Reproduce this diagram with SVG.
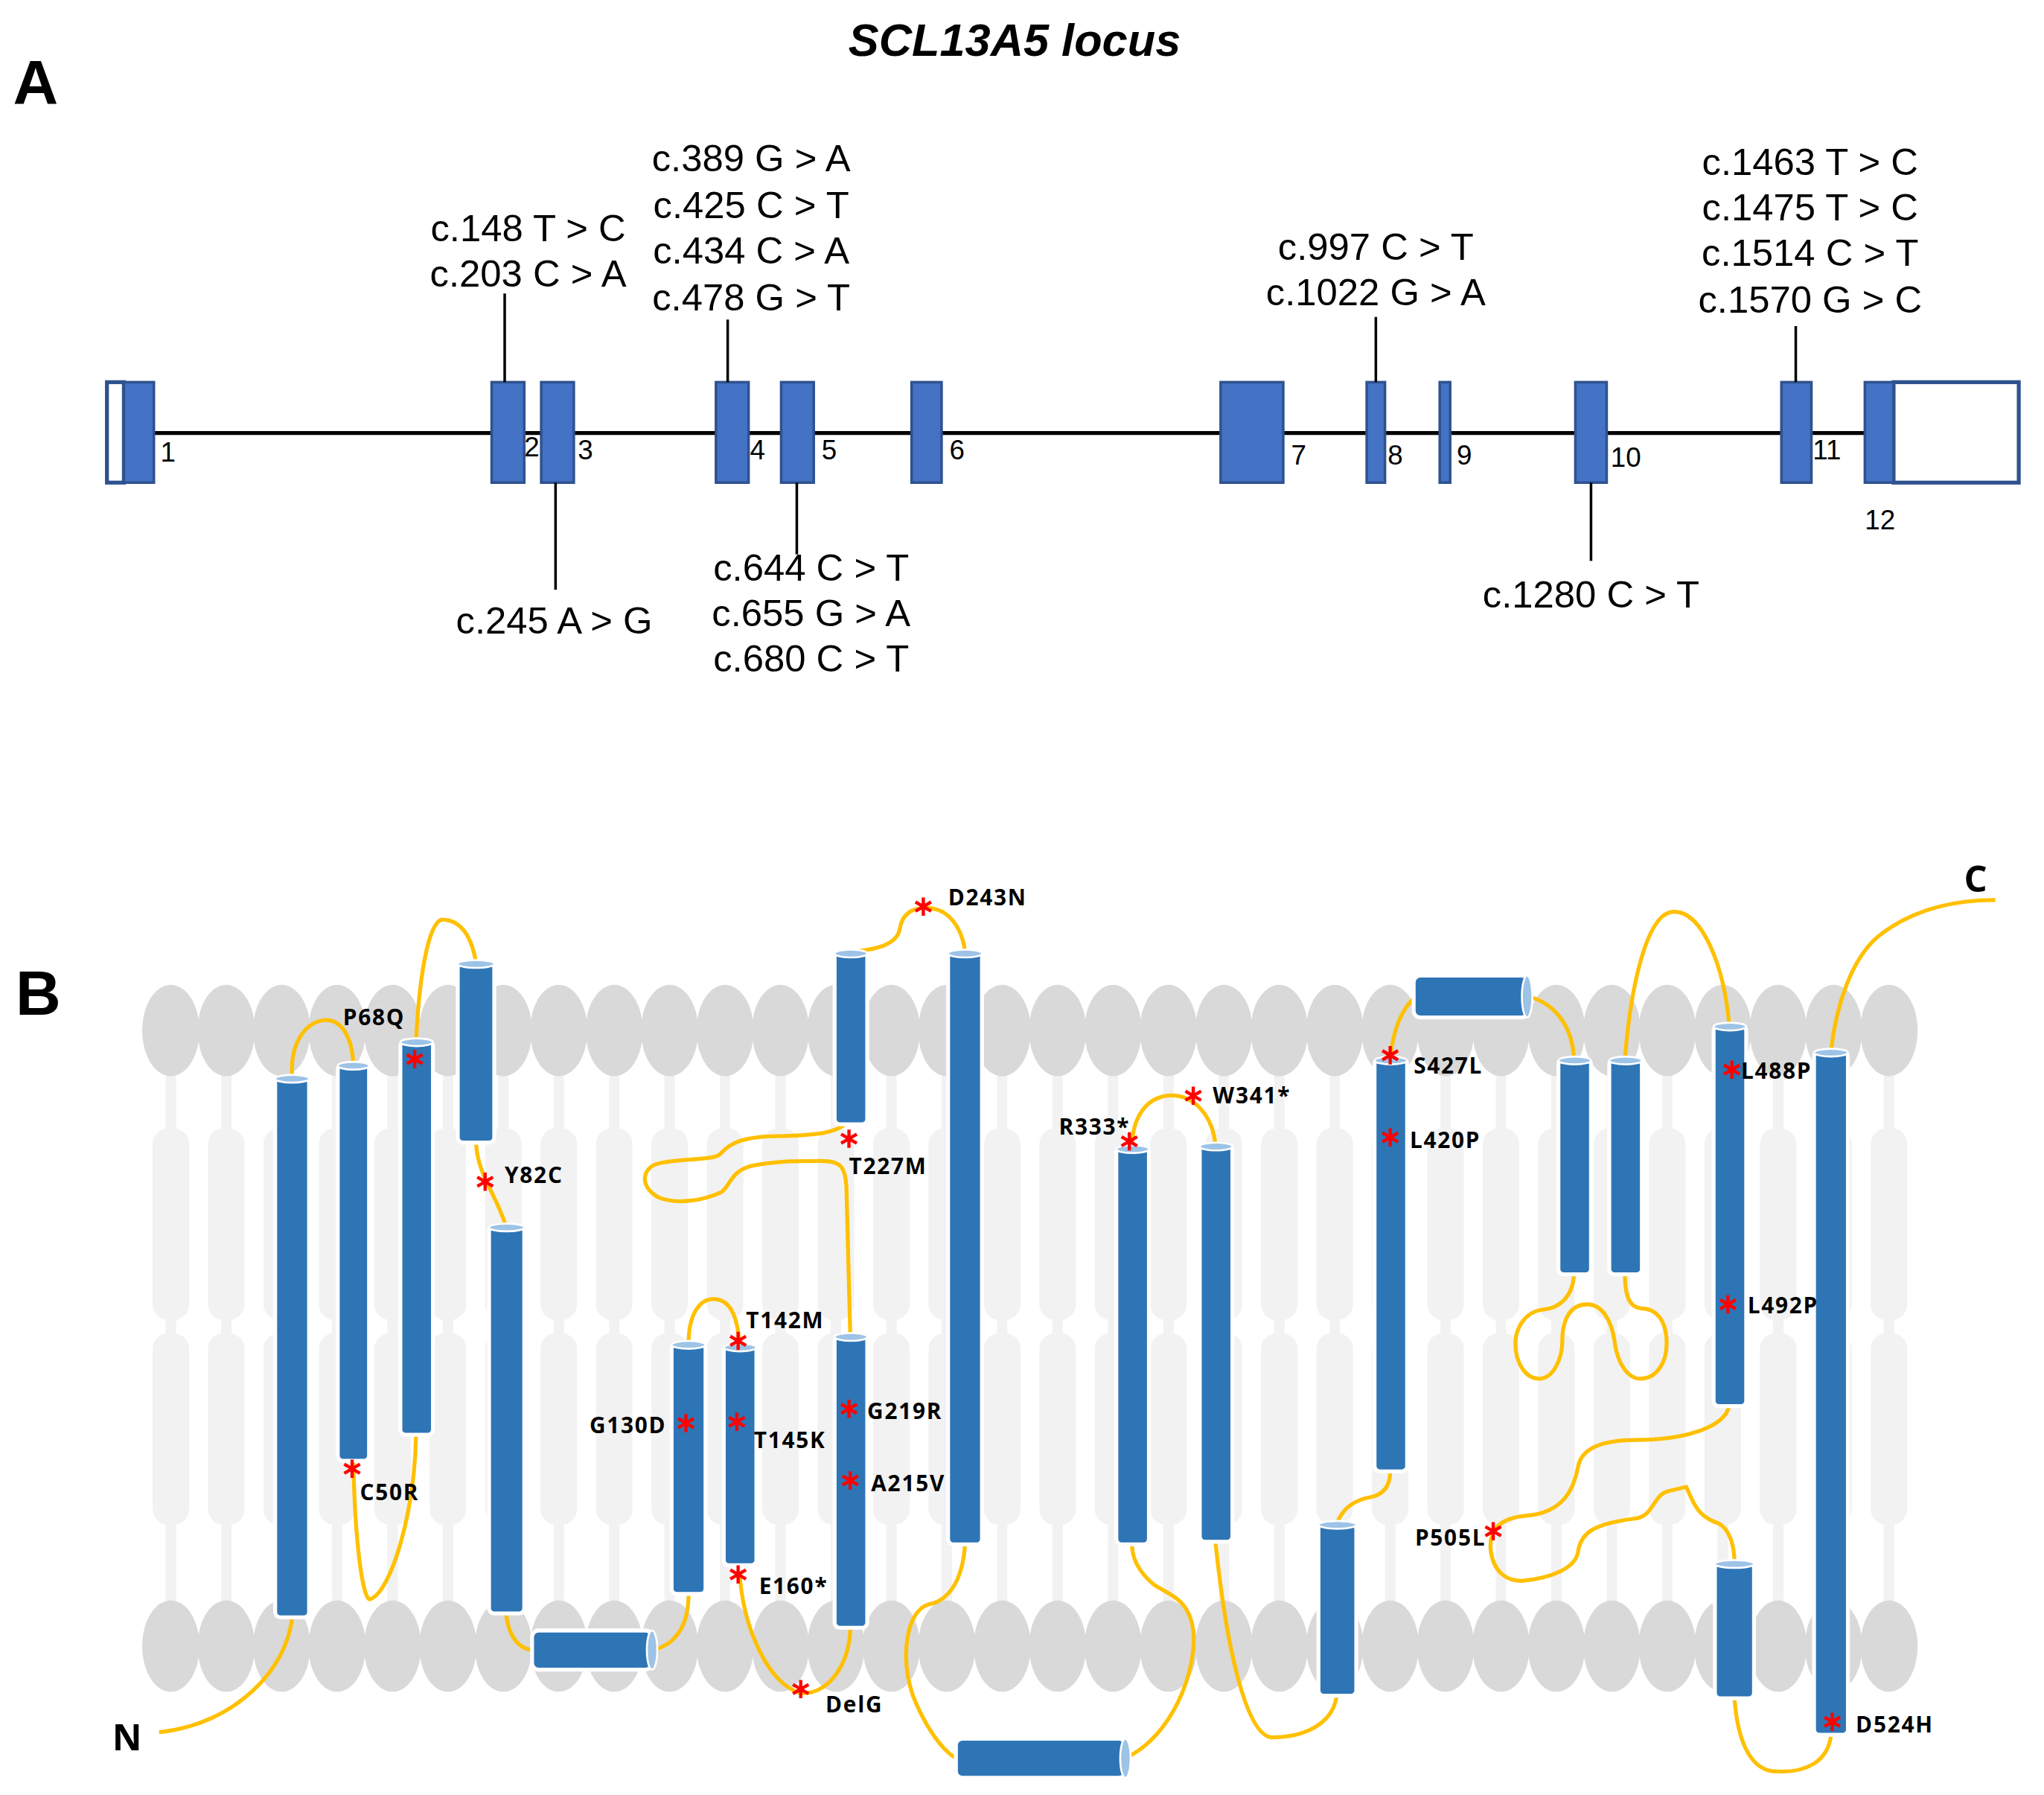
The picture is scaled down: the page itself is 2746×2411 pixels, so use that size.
<svg xmlns="http://www.w3.org/2000/svg" xmlns:xlink="http://www.w3.org/1999/xlink" width="2746" height="2411" viewBox="0 0 2746 2411">
<style>
.ex{fill:#4472C4;stroke:#2F528F;stroke-width:2}
.exw{fill:#fff;stroke:#2F528F;stroke-width:3}
.ml{font-family:"Liberation Sans",Arial,sans-serif;font-size:29px;fill:#000;text-anchor:middle}
.en{font-family:"Liberation Sans",Arial,sans-serif;font-size:21px;fill:#000}
.tk{stroke:#000;stroke-width:2}
.hd{fill:#d9d9d9}
.tl{fill:#f2f2f2}
.lp{fill:none;stroke:#FFC000;stroke-width:3}
.hx{fill:#2E75B6;stroke:#fff;stroke-width:3}
.cap{fill:#9DC3E6;stroke:#fff;stroke-width:1.5}
.lb{font-family:"Open Sans","DejaVu Sans",sans-serif;font-weight:bold;font-size:17px;fill:#000;letter-spacing:1px}
.big{font-family:"Liberation Sans",Arial,sans-serif;font-weight:bold;font-size:48px;fill:#000}
</style>
<defs>
<g id="ast"><path d="M0,-7V7M-6,-3.5L6,3.5M-6,3.5L6,-3.5" stroke="#f00" stroke-width="2.5"/></g>
<g id="head"><ellipse cx="0" cy="0" rx="22" ry="35" class="hd"/></g>
<g id="tail"><rect x="-4" y="820" width="8" height="415" class="tl"/><rect x="-14" y="865" width="28" height="147" rx="12" class="tl"/><rect x="-14" y="1022" width="28" height="147" rx="12" class="tl"/></g>
</defs>
<rect width="2746" height="2411" fill="#fff"/>
<g transform="scale(1.752)">
<g id="panelA">
<text x="778" y="43" font-family="Liberation Sans,Arial,sans-serif" font-weight="bold" font-style="italic" font-size="35" text-anchor="middle">SCL13A5 locus</text>
<text x="10" y="80" class="big">A</text>
<line x1="118" y1="332" x2="1430" y2="332" stroke="#000" stroke-width="3"/>
<g id="exons">
<rect x="82" y="293" width="13" height="77" class="exw"/><rect x="95" y="293" width="23" height="77" class="ex"/>
<rect x="377" y="293" width="25" height="77" class="ex"/>
<rect x="415" y="293" width="25" height="77" class="ex"/>
<rect x="549" y="293" width="25" height="77" class="ex"/>
<rect x="599" y="293" width="25" height="77" class="ex"/>
<rect x="699" y="293" width="23" height="77" class="ex"/>
<rect x="936" y="293" width="48" height="77" class="ex"/>
<rect x="1048" y="293" width="14" height="77" class="ex"/>
<rect x="1104" y="293" width="8" height="77" class="ex"/>
<rect x="1208" y="293" width="24" height="77" class="ex"/>
<rect x="1366" y="293" width="23" height="77" class="ex"/>
<rect x="1452" y="293" width="96" height="77" class="exw"/><rect x="1430" y="293" width="22" height="77" class="ex"/>
</g>
<g class="en">
<text x="123" y="354">1</text><text x="402" y="350">2</text><text x="443" y="352">3</text><text x="575" y="352">4</text><text x="630" y="352">5</text><text x="728" y="352">6</text><text x="990" y="356">7</text><text x="1064" y="356">8</text><text x="1117" y="356">9</text><text x="1235" y="358">10</text><text x="1390" y="352">11</text><text x="1430" y="406">12</text>
</g>
<g id="ticks">
<line x1="387" y1="225" x2="387" y2="293" class="tk"/>
<line x1="558" y1="245" x2="558" y2="293" class="tk"/>
<line x1="1055" y1="243" x2="1055" y2="293" class="tk"/>
<line x1="1377" y1="250" x2="1377" y2="293" class="tk"/>
<line x1="426" y1="370" x2="426" y2="452" class="tk"/>
<line x1="611" y1="370" x2="611" y2="425" class="tk"/>
<line x1="1220" y1="370" x2="1220" y2="430" class="tk"/>
</g>
<g class="ml">
<text x="405" y="185">c.148 T &gt; C</text><text x="405" y="220">c.203 C &gt; A</text>
<text x="576" y="131">c.389 G &gt; A</text><text x="576" y="167">c.425 C &gt; T</text><text x="576" y="202">c.434 C &gt; A</text><text x="576" y="238">c.478 G &gt; T</text>
<text x="1055" y="199">c.997 C &gt; T</text><text x="1055" y="234">c.1022 G &gt; A</text>
<text x="1388" y="134">c.1463 T &gt; C</text><text x="1388" y="169">c.1475 T &gt; C</text><text x="1388" y="204">c.1514 C &gt; T</text><text x="1388" y="240">c.1570 G &gt; C</text>
<text x="425" y="486">c.245 A &gt; G</text>
<text x="622" y="445">c.644 C &gt; T</text><text x="622" y="480">c.655 G &gt; A</text><text x="622" y="515">c.680 C &gt; T</text>
<text x="1220" y="466">c.1280 C &gt; T</text>
</g>
</g>
<g id="panelB">
<text x="12" y="778" class="big">B</text>
<g id="membrane">
<use href="#tail" x="131"/><use href="#tail" x="173.5"/><use href="#tail" x="216"/><use href="#tail" x="258.5"/><use href="#tail" x="301"/><use href="#tail" x="343.5"/><use href="#tail" x="386"/><use href="#tail" x="428.5"/><use href="#tail" x="471"/><use href="#tail" x="513.5"/><use href="#tail" x="556"/><use href="#tail" x="598.5"/><use href="#tail" x="641"/><use href="#tail" x="683.5"/><use href="#tail" x="726"/><use href="#tail" x="768.5"/><use href="#tail" x="811"/><use href="#tail" x="853.5"/><use href="#tail" x="896"/><use href="#tail" x="938.5"/><use href="#tail" x="981"/><use href="#tail" x="1023.5"/><use href="#tail" x="1066"/><use href="#tail" x="1108.5"/><use href="#tail" x="1151"/><use href="#tail" x="1193.5"/><use href="#tail" x="1236"/><use href="#tail" x="1278.5"/><use href="#tail" x="1321"/><use href="#tail" x="1363.5"/><use href="#tail" x="1406"/><use href="#tail" x="1448.5"/>
<g transform="translate(0,790)"><use href="#head" x="131"/><use href="#head" x="173.5"/><use href="#head" x="216"/><use href="#head" x="258.5"/><use href="#head" x="301"/><use href="#head" x="343.5"/><use href="#head" x="386"/><use href="#head" x="428.5"/><use href="#head" x="471"/><use href="#head" x="513.5"/><use href="#head" x="556"/><use href="#head" x="598.5"/><use href="#head" x="641"/><use href="#head" x="683.5"/><use href="#head" x="726"/><use href="#head" x="768.5"/><use href="#head" x="811"/><use href="#head" x="853.5"/><use href="#head" x="896"/><use href="#head" x="938.5"/><use href="#head" x="981"/><use href="#head" x="1023.5"/><use href="#head" x="1066"/><use href="#head" x="1108.5"/><use href="#head" x="1151"/><use href="#head" x="1193.5"/><use href="#head" x="1236"/><use href="#head" x="1278.5"/><use href="#head" x="1321"/><use href="#head" x="1363.5"/><use href="#head" x="1406"/><use href="#head" x="1448.5"/></g>
<g transform="translate(0,1262)"><use href="#head" x="131"/><use href="#head" x="173.5"/><use href="#head" x="216"/><use href="#head" x="258.5"/><use href="#head" x="301"/><use href="#head" x="343.5"/><use href="#head" x="386"/><use href="#head" x="428.5"/><use href="#head" x="471"/><use href="#head" x="513.5"/><use href="#head" x="556"/><use href="#head" x="598.5"/><use href="#head" x="641"/><use href="#head" x="683.5"/><use href="#head" x="726"/><use href="#head" x="768.5"/><use href="#head" x="811"/><use href="#head" x="853.5"/><use href="#head" x="896"/><use href="#head" x="938.5"/><use href="#head" x="981"/><use href="#head" x="1023.5"/><use href="#head" x="1066"/><use href="#head" x="1108.5"/><use href="#head" x="1151"/><use href="#head" x="1193.5"/><use href="#head" x="1236"/><use href="#head" x="1278.5"/><use href="#head" x="1321"/><use href="#head" x="1363.5"/><use href="#head" x="1406"/><use href="#head" x="1448.5"/></g>
</g>
<g id="connectors" class="lp">
<path d="M122,1328 C180,1322 220,1280 224,1240"/>
<path d="M224,826 C222,795 238,782 250,782 C262,782 270,795 271,816"/>
<path d="M271,1120 C272,1180 278,1228 284,1226 C300,1220 318,1160 319,1100"/>
<path d="M319,798 C322,740 330,704 340,705 C355,706 362,720 365,738"/>
<path d="M365,876 C366,900 380,915 388,940"/>
<path d="M388,1237 C390,1255 398,1265 410,1265"/>
<path d="M500,1265 C515,1262 528,1250 528,1222"/>
<path d="M528,1030 C528,1005 538,996 547,996 C560,996 566,1010 567,1032"/>
<path d="M567,1205 C570,1250 590,1292 614,1298 C635,1300 652,1275 652,1248"/>
<path d="M652,1024 L649,909 C648,895 645,890 630,890 C610,890 600,890 580,893 C560,896 560,910 553,914 C540,920 520,924 505,918 C490,910 492,895 505,892 C520,888 545,890 552,885 C560,876 570,871 600,871 C620,870 640,870 649,861"/>
<path d="M652,730 C670,728 688,725 690,712 C692,700 700,696 710,696 C728,696 738,712 740,730"/>
<path d="M740,1184 C738,1215 725,1228 712,1230 C695,1235 690,1270 700,1300 C708,1320 720,1340 733,1348"/>
<path d="M863,1348 C900,1330 918,1280 915,1250 C912,1225 895,1222 885,1215 C873,1205 868,1195 868,1184"/>
<path d="M868,880 C868,855 880,842 895,840 C915,838 930,855 932,878"/>
<path d="M932,1182 C940,1260 955,1330 975,1332 C1000,1332 1022,1322 1025,1300"/>
<path d="M1025,1168 C1030,1155 1040,1150 1050,1148 C1062,1146 1066,1138 1066,1128"/>
<path d="M1066,812 C1068,790 1075,772 1086,764"/>
<path d="M1172,764 C1195,770 1206,790 1207,812"/>
<path d="M1207,977 C1206,995 1195,1003 1183,1004 C1168,1006 1162,1020 1162,1030 C1162,1045 1170,1057 1180,1057 C1192,1057 1198,1040 1198,1028 C1198,1010 1205,1000 1217,1000 C1230,1000 1236,1015 1238,1028 C1240,1045 1248,1057 1258,1057 C1270,1057 1278,1045 1278,1030 C1278,1012 1270,1003 1258,1003 C1248,1002 1246,990 1246,977"/>
<path d="M1246,812 C1250,760 1262,700 1283,699 C1305,698 1322,740 1326,786"/>
<path d="M1326,1078 C1322,1095 1290,1104 1255,1104 C1225,1104 1212,1112 1210,1125 C1207,1140 1200,1160 1170,1162 C1148,1164 1142,1175 1143,1188 C1145,1205 1155,1212 1167,1212 C1190,1210 1208,1202 1210,1190 C1212,1175 1222,1168 1255,1164 C1268,1162 1268,1145 1280,1143 L1293,1140 C1298,1150 1300,1162 1318,1168 C1326,1172 1330,1185 1330,1198"/>
<path d="M1330,1302 C1332,1330 1340,1356 1360,1358 C1385,1360 1402,1350 1404,1330"/>
<path d="M1404,806 C1408,770 1420,735 1440,718 C1465,698 1495,690 1530,690"/>
</g>
<g id="helices">
<g id="h1"><rect x="211" y="826" width="26" height="414" rx="4" class="hx"/><ellipse cx="224" cy="827" rx="13" ry="3" class="cap"/></g>
<g id="h2"><rect x="259" y="816" width="24" height="304" rx="4" class="hx"/><ellipse cx="271" cy="817" rx="12" ry="3" class="cap"/></g>
<g id="h3"><rect x="307" y="798" width="25" height="302" rx="4" class="hx"/><ellipse cx="319.5" cy="799" rx="12.5" ry="3" class="cap"/></g>
<g id="h4"><rect x="351" y="738" width="28" height="138" rx="4" class="hx"/><ellipse cx="365" cy="739" rx="14" ry="3" class="cap"/></g>
<g id="h5"><rect x="375" y="940" width="27" height="297" rx="4" class="hx"/><ellipse cx="388.5" cy="941" rx="13.5" ry="3" class="cap"/></g>
<g id="h6"><rect x="408" y="1250" width="92" height="30" rx="5" class="hx"/><ellipse cx="500" cy="1265" rx="4" ry="15" class="cap"/></g>
<g id="h7"><rect x="515" y="1030" width="26" height="192" rx="4" class="hx"/><ellipse cx="528" cy="1031" rx="13" ry="3" class="cap"/></g>
<g id="h8"><rect x="555" y="1032" width="25" height="168" rx="4" class="hx"/><ellipse cx="567.5" cy="1033" rx="12.5" ry="3" class="cap"/></g>
<g id="h9"><rect x="640" y="730" width="25" height="132" rx="4" class="hx"/><ellipse cx="652.5" cy="731" rx="12.5" ry="3" class="cap"/></g>
<g id="h10"><rect x="640" y="1024" width="25" height="224" rx="4" class="hx"/><ellipse cx="652.5" cy="1025" rx="12.5" ry="3" class="cap"/></g>
<g id="h11"><rect x="727" y="730" width="26" height="454" rx="4" class="hx"/><ellipse cx="740" cy="731" rx="13" ry="3" class="cap"/></g>
<g id="h12"><rect x="733" y="1333" width="130" height="30" rx="5" class="hx"/><ellipse cx="863" cy="1348" rx="4" ry="15" class="cap"/></g>
<g id="h13"><rect x="856" y="880" width="25" height="304" rx="4" class="hx"/><ellipse cx="868.5" cy="881" rx="12.5" ry="3" class="cap"/></g>
<g id="h14"><rect x="920" y="878" width="25" height="304" rx="4" class="hx"/><ellipse cx="932.5" cy="879" rx="12.5" ry="3" class="cap"/></g>
<g id="h15"><rect x="1054" y="812" width="25" height="316" rx="4" class="hx"/><ellipse cx="1066.5" cy="813" rx="12.5" ry="3" class="cap"/></g>
<g id="h16"><rect x="1084" y="748" width="88" height="32" rx="5" class="hx"/><ellipse cx="1171" cy="764" rx="4" ry="16" class="cap"/></g>
<g id="h17"><rect x="1195" y="812" width="25" height="165" rx="4" class="hx"/><ellipse cx="1207.5" cy="813" rx="12.5" ry="3" class="cap"/></g>
<g id="h18"><rect x="1234" y="812" width="25" height="165" rx="4" class="hx"/><ellipse cx="1246.5" cy="813" rx="12.5" ry="3" class="cap"/></g>
<g id="h19"><rect x="1314" y="786" width="25" height="292" rx="4" class="hx"/><ellipse cx="1326.5" cy="787" rx="12.5" ry="3" class="cap"/></g>
<g id="h20"><rect x="1011" y="1168" width="29" height="132" rx="4" class="hx"/><ellipse cx="1025.5" cy="1169" rx="14.5" ry="3" class="cap"/></g>
<g id="h21"><rect x="1315" y="1198" width="30" height="104" rx="4" class="hx"/><ellipse cx="1330" cy="1199" rx="15" ry="3" class="cap"/></g>
<g id="h22"><rect x="1391" y="806" width="26" height="524" rx="4" class="hx"/><ellipse cx="1404" cy="807" rx="13" ry="3" class="cap"/></g>
</g>
<g id="mutations">
<use href="#ast" x="318" y="812"/><use href="#ast" x="270" y="1126"/><use href="#ast" x="372" y="906"/><use href="#ast" x="651" y="873"/><use href="#ast" x="708" y="695"/><use href="#ast" x="566" y="1028"/><use href="#ast" x="526" y="1091"/><use href="#ast" x="565" y="1090"/><use href="#ast" x="651" y="1080"/><use href="#ast" x="652" y="1135"/><use href="#ast" x="566" y="1207"/><use href="#ast" x="614" y="1295"/>
<use href="#ast" x="866" y="875"/><use href="#ast" x="915" y="840"/><use href="#ast" x="1066" y="809"/><use href="#ast" x="1066" y="872"/><use href="#ast" x="1328" y="820"/><use href="#ast" x="1325" y="1000"/><use href="#ast" x="1145" y="1174"/><use href="#ast" x="1405" y="1320"/>
</g>
<g id="labels" class="lb">
<text x="263" y="786">P68Q</text><text x="276" y="1150">C50R</text><text x="387" y="907">Y82C</text><text x="651" y="900">T227M</text><text x="727" y="694">D243N</text><text x="572" y="1018">T142M</text><text x="452" y="1099">G130D</text><text x="578" y="1110">T145K</text><text x="665" y="1088">G219R</text><text x="668" y="1143">A215V</text><text x="582" y="1222">E160*</text><text x="633" y="1313">DelG</text>
<text x="812" y="870">R333*</text><text x="930" y="846">W341*</text><text x="1084" y="823">S427L</text><text x="1081" y="880">L420P</text><text x="1335" y="827">L488P</text><text x="1340" y="1007">L492P</text><text x="1085" y="1185">P505L</text><text x="1423" y="1328">D524H</text>
<text x="86" y="1342" font-size="28" letter-spacing="0">N</text><text x="1506" y="684" font-size="28" letter-spacing="0">C</text>
</g>
</g>
</g>
</svg>
